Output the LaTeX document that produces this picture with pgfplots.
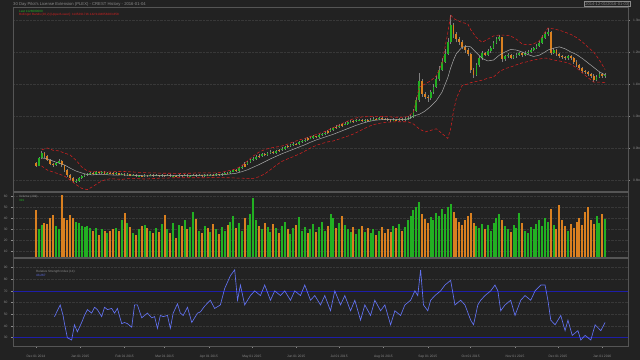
\documentclass[border=0pt]{standalone}
\usepackage{pgfplots}
\pgfplotsset{compat=1.18}
\usepackage{pgfplotstable}
\usepackage{fontspec}
\setmainfont{Liberation Sans}
\definecolor{bg}{HTML}{222222}
\definecolor{fg}{HTML}{8A8A8A}
\definecolor{framec}{HTML}{555555}
\definecolor{gridc}{HTML}{383838}
\definecolor{upc}{HTML}{22B022}
\definecolor{dnc}{HTML}{D98020}
\definecolor{wickc}{HTML}{808080}
\definecolor{bbc}{HTML}{D42020}
\definecolor{midc}{HTML}{A8A8A8}
\definecolor{rsic}{HTML}{6272F2}
\definecolor{thrc}{HTML}{1E1EA8}

% day o h l c v  (price in millions ISK, volume in 10k)
\pgfplotstableread{
d o h l c v
2 845 872 843 868 30
4 868 890 865 884 34
14 846 856 843 852 33
16 852 866 849 858 30
28 796 803 792 798 37
30 798 810 795 806 36
32 806 815 803 812 33
34 812 819 809 816 32
36 816 823 813 820 33
38 820 826 817 822 31
42 818 827 816 824 31
46 821 828 819 825 30
50 820 826 818 823 27
56 818 824 816 821 31
60 817 822 815 819 38
64 815 821 813 818 36
68 814 819 812 816 27
72 812 817 810 814 30
76 811 818 809 815 34
80 813 819 811 816 29
84 813 818 811 815 31
88 812 818 810 815 35
92 813 819 811 816 30
96 812 817 810 814 36
100 811 818 809 815 34
104 813 819 811 816 38
108 812 817 810 814 32
110 814 820 812 817 46
114 813 818 811 815 29
118 812 819 810 816 33
122 814 820 812 817 28
126 815 821 813 818 30
130 816 823 814 820 32
132 820 826 818 822 29
136 821 829 819 826 37
138 826 834 824 830 42
142 828 840 826 836 36
144 836 846 833 842 29
148 850 860 847 856 34
150 856 867 853 862 44
152 862 871 859 866 58
154 866 877 863 872 38
158 876 885 873 880 30
162 878 889 876 885 32
164 885 893 882 888 28
168 884 894 882 890 31
172 894 902 891 898 33
174 898 906 895 902 37
178 906 914 903 910 26
180 910 918 907 914 31
184 912 922 909 918 41
186 918 926 915 922 29
188 922 930 919 926 32
192 930 936 927 932 30
194 932 940 929 936 35
198 934 944 931 940 32
200 940 948 937 944 37
202 944 952 941 948 29
206 952 961 949 956 44
208 956 967 953 962 40
212 966 975 963 970 36
216 974 980 971 976 34
218 976 984 973 980 30
220 980 986 977 982 28
224 984 990 981 986 26
226 986 992 983 988 30
230 985 992 982 988 28
234 986 993 983 989 27
236 989 996 986 992 30
240 990 998 987 994 29
250 986 993 983 989 33
254 987 994 984 990 35
258 988 996 985 992 32
260 992 999 989 995 38
262 995 1003 992 998 42
264 998 1022 995 1015 47
266 1015 1060 1012 1050 50
268 1050 1135 1045 1110 55
276 1055 1082 1050 1075 41
278 1075 1100 1070 1092 38
280 1092 1124 1088 1115 45
282 1115 1155 1110 1145 42
284 1145 1182 1140 1170 48
286 1170 1208 1165 1195 44
288 1195 1245 1190 1230 50
290 1230 1316 1225 1285 53
308 1128 1165 1124 1158 33
310 1158 1188 1152 1180 31
312 1180 1204 1175 1196 35
316 1192 1208 1188 1202 34
318 1202 1220 1198 1214 29
320 1214 1234 1210 1228 36
322 1228 1246 1224 1240 40
324 1240 1254 1235 1246 44
328 1178 1192 1172 1186 33
330 1186 1196 1181 1190 30
334 1182 1192 1178 1186 34
336 1186 1197 1182 1192 31
338 1192 1201 1188 1196 45
342 1190 1203 1186 1198 29
344 1198 1206 1194 1201 27
346 1201 1211 1197 1206 32
348 1206 1217 1202 1212 30
350 1212 1225 1208 1220 35
352 1220 1234 1215 1228 38
354 1228 1252 1224 1245 33
356 1245 1262 1240 1255 40
358 1255 1275 1250 1262 37
362 1198 1212 1194 1205 34
372 1180 1191 1176 1186 29
392 1112 1128 1108 1122 42
394 1122 1136 1118 1130 36
398 1124 1133 1120 1128 39
}\uptab

\pgfplotstableread{
d o h l c v
0 852 855 840 845 47
6 884 887 870 875 36
8 875 878 858 862 35
10 862 865 846 850 40
12 850 853 842 846 43
18 858 861 842 846 61
20 846 848 826 831 40
22 831 834 810 815 38
24 815 818 800 806 43
26 806 809 790 796 40
40 822 824 815 818 29
44 824 826 818 821 25
48 825 827 818 820 29
52 823 825 819 822 29
54 822 824 816 818 30
58 821 823 815 817 29
62 819 821 812 815 45
66 818 820 811 814 32
70 816 818 809 812 25
74 814 816 808 811 33
78 815 817 810 813 31
82 816 818 810 813 27
86 815 817 809 812 28
90 815 817 810 813 43
94 816 818 809 812 27
98 814 816 808 811 22
102 815 817 810 813 33
106 816 818 809 812 30
112 817 819 810 813 39
116 815 817 809 812 27
120 816 818 811 814 31
124 817 819 812 815 35
128 818 820 813 816 26
134 822 825 818 821 34
140 830 833 825 828 31
146 850 855 840 842 40
156 876 881 869 872 33
160 880 884 874 878 36
166 888 891 880 884 35
170 894 898 887 890 27
176 906 910 899 902 30
182 914 917 908 912 34
190 930 934 923 926 27
196 936 939 930 934 28
204 952 957 945 948 33
210 966 971 959 962 31
214 974 979 967 970 42
222 984 988 979 982 32
228 988 991 981 985 33
232 988 991 982 986 31
238 992 995 986 990 25
242 994 997 988 992 32
244 992 995 986 990 27
246 990 993 984 988 30
248 988 991 982 986 28
252 989 992 983 987 31
256 990 993 984 988 29
270 1110 1115 1060 1068 44
272 1068 1075 1052 1060 39
274 1060 1066 1045 1055 36
292 1285 1290 1245 1255 46
294 1255 1262 1230 1240 40
296 1240 1248 1222 1232 37
298 1232 1238 1208 1216 34
300 1216 1222 1198 1205 38
302 1205 1212 1186 1195 42
304 1195 1198 1135 1145 45
306 1145 1150 1118 1128 36
314 1196 1200 1186 1192 30
326 1246 1248 1170 1178 38
332 1190 1194 1177 1182 28
340 1196 1199 1185 1190 36
360 1262 1265 1192 1198 48
364 1205 1208 1188 1194 30
366 1194 1198 1182 1188 52
368 1188 1192 1179 1185 38
370 1185 1189 1174 1180 33
374 1186 1190 1176 1182 35
376 1182 1185 1164 1170 31
378 1170 1174 1154 1160 37
380 1160 1164 1144 1150 40
382 1150 1154 1134 1140 34
384 1140 1145 1130 1136 46
386 1136 1140 1124 1130 50
388 1130 1134 1120 1126 38
390 1126 1130 1106 1112 35
396 1130 1134 1119 1124 44
}\dntab

% Bollinger bands (20,2): upper, middle, lower
\pgfplotstableread{
d u m w
4 894 869 844
8 900 866 831
12 893 859 825
16 891 853 819
20 884 847 812
24 878 837 800
28 862 828 786
32 841 822 774
36 828 817 770
40 826 816 780
44 826 818 792
48 825 817 800
52 825 816 804
56 826 815 803
60 827 816 802
64 826 815 804
68 825 815 805
72 824 814 804
76 823 813 803
80 822 813 804
84 822 814 805
88 821 814 806
92 821 814 806
96 821 814 807
100 820 814 807
104 821 814 807
108 821 814 807
112 822 814 807
116 822 815 807
120 822 815 807
124 822 815 808
128 823 816 808
132 826 817 807
136 830 819 807
140 835 821 806
144 845 826 806
148 860 832 804
152 875 840 805
156 887 848 810
160 895 857 819
164 900 866 832
168 903 874 846
172 906 882 858
176 912 889 866
180 919 896 873
184 925 903 881
188 930 910 890
192 936 918 900
196 942 925 908
200 948 931 914
204 955 937 919
208 964 943 922
212 972 950 928
216 980 957 934
220 988 964 940
224 994 971 948
228 997 977 957
232 998 982 966
236 999 986 973
240 999 988 977
244 998 989 980
248 997 989 981
252 996 989 982
256 996 989 982
260 998 990 982
264 1012 1000 975
268 1090 1005 960
272 1100 1015 950
276 1110 1030 955
280 1125 1048 960
284 1165 1075 945
288 1260 1120 930
290 1316 1150 960
292 1305 1175 1015
294 1300 1195 1055
298 1292 1215 1095
302 1288 1218 1100
304 1270 1216 1104
308 1245 1198 1108
312 1230 1180 1112
316 1240 1172 1118
320 1250 1175 1122
324 1253 1190 1138
328 1253 1200 1148
332 1250 1208 1153
336 1240 1206 1160
340 1225 1200 1166
344 1222 1192 1170
348 1225 1186 1175
352 1235 1190 1178
356 1262 1200 1181
358 1275 1206 1180
362 1272 1212 1175
366 1268 1216 1172
370 1262 1210 1168
374 1255 1200 1162
378 1245 1192 1150
382 1232 1180 1135
386 1215 1166 1120
390 1200 1152 1106
394 1175 1138 1106
398 1145 1128 1104
}\bbtab

% RSI (14)
\pgfplotstableread{
d r
13 48
17 58
19 49
20 42
22 30
25 28
27 41
29 35
32 43
34 49
36 54
39 51
41 56
43 54
46 48
48 56
50 54
53 55
55 51
57 55
60 42
62 43
64 42
67 39
69 58
71 58
74 47
78 51
81 47
83 48
85 38
87 49
89 48
92 49
94 38
96 51
99 59
101 51
103 49
106 56
109 43
113 51
115 52
118 57
122 62
125 55
129 58
132 72
136 83
139 88
141 62
143 75
146 58
150 66
153 70
157 66
160 75
164 62
167 70
171 66
174 70
178 62
181 70
185 66
188 75
192 62
195 66
199 58
202 66
206 53
209 70
213 58
216 66
220 53
223 62
227 45
230 58
234 49
237 62
241 53
244 58
248 41
251 53
255 49
258 58
262 62
265 70
267 66
269 88
271 58
274 53
276 62
279 66
283 70
286 75
290 79
293 58
297 62
300 58
304 45
306 41
309 58
311 62
314 66
318 70
321 75
323 70
325 53
328 58
332 62
335 49
339 62
342 66
346 62
349 70
353 75
356 75
358 62
360 45
363 41
367 49
370 36
372 45
375 32
379 36
381 28
384 32
388 28
391 41
395 36
398 43
}\rsitab

\pgfplotsset{
  panel/.style={
    scale only axis, width=615bp,
    xmin=-16, xmax=414,
    axis line style={framec, line width=0.8bp},
    tick style={fg, line width=0.4bp},
    tick align=outside, major tick length=2bp,
    ticklabel style={text=fg, font=\fontsize{3.3}{4}\selectfont},
    /pgf/number format/assume math mode=true,
    ymajorgrids, grid style={gridc, line width=0.4bp, densely dotted},
    axis on top=false, clip=true,
  }
}

\begin{document}
\begin{tikzpicture}
\fill[bg] (0,0) rectangle (640bp,360bp);

% ---------- price panel ----------
\begin{axis}[panel, at={(13bp,169bp)}, anchor=south west, height=184bp,
  ymin=765.6, ymax=1340.6,
  xtick=\empty,
  ytick={800,900,1000,1100,1200,1300},
  yticklabels={0.8bn,0.9bn,1.0bn,1.1bn,1.2bn,1.3bn},
  ytick pos=right, yticklabel pos=right,
  yticklabel style={xshift=-0.5bp}]
\addplot[wickc, line width=0.45bp, mark=none, quiver={u=0, v=\thisrow{h}-\thisrow{l}}] table[x=d, y=l] {\uptab};
\addplot[wickc, line width=0.45bp, mark=none, quiver={u=0, v=\thisrow{h}-\thisrow{l}}] table[x=d, y=l] {\dntab};
\addplot[upc, line width=1.8bp, mark=none, quiver={u=0, v=\thisrow{c}-\thisrow{o}}] table[x=d, y=o] {\uptab};
\addplot[dnc, line width=1.8bp, mark=none, quiver={u=0, v=\thisrow{c}-\thisrow{o}}] table[x=d, y=o] {\dntab};
\addplot[bbc, line width=0.55bp, densely dashed, mark=none] table[x=d, y=u] {\bbtab};
\addplot[bbc, line width=0.55bp, densely dashed, mark=none] table[x=d, y=w] {\bbtab};
\addplot[midc, line width=0.5bp, mark=none] table[x=d, y=m] {\bbtab};
\end{axis}

% ---------- volume panel ----------
\begin{axis}[panel, at={(13bp,103bp)}, anchor=south west, height=65bp,
  ymin=5.2, ymax=63.6,
  xtick=\empty,
  ytick={10,20,30,40,50,60},
  ytick pos=left]
\addplot[ycomb, upc, line width=2bp, mark=none] table[x=d, y=v] {\uptab};
\addplot[ycomb, dnc, line width=2bp, mark=none] table[x=d, y=v] {\dntab};
\end{axis}

% ---------- RSI panel ----------
\begin{axis}[panel, at={(13bp,14bp)}, anchor=south west, height=88bp,
  ymin=22.9, ymax=98.1,
  ytick={30,40,50,60,70,80,90},
  ytick pos=left,
  xtick={0,31,62,90,121,151,182,212,243,274,304,335,365,396},
  xticklabels={Dec 01 2014,Jan 01 2015,Feb 01 2015,Mar 01 2015,Apr 01 2015,May 01 2015,Jun 01 2015,Jul 01 2015,Aug 01 2015,Sep 01 2015,Oct 01 2015,Nov 01 2015,Dec 01 2015,Jan 01 2016},
  xtick pos=bottom,
  xticklabel style={yshift=-3.5bp}]
\addplot[thrc, line width=0.6bp, mark=none] coordinates {(-16,70) (414,70)};
\addplot[thrc, line width=0.6bp, mark=none] coordinates {(-16,30) (414,30)};
\addplot[rsic, line width=0.65bp, mark=none] table[x=d, y=r] {\rsitab};
\end{axis}

% ---------- texts ----------
\node[anchor=west, inner sep=0, text=fg, font=\fontsize{4.2}{5}\selectfont] at (13bp,356bp) {30 Day Pilot's License Extension (PLEX) - CREST History - 2016-01-04};
\node[anchor=east, draw=fg, line width=0.3bp, inner sep=0.5bp, text=fg, font=\fontsize{4.1}{5}\selectfont] at (630bp,356bp) {[2014-12-01/2016-01-03]};
\node[anchor=west, inner sep=0, text=upc, font=\fontsize{3.1}{4}\selectfont] at (19bp,349bp) {Last 1128000000};
\node[anchor=west, inner sep=0, text=bbc, font=\fontsize{3.1}{4}\selectfont] at (19bp,345bp) {Bollinger Bands (20,2) [Upper/Lower]: 1145291716.142/1104058283.858};
\node[anchor=west, inner sep=0, text=fg, font=\fontsize{3.1}{4}\selectfont] at (19bp,163.5bp) {Volume (10k):};
\node[anchor=west, inner sep=0, text=upc, font=\fontsize{3.1}{4}\selectfont] at (19bp,159.5bp) {391};
\node[anchor=west, inner sep=0, text=fg, font=\fontsize{3.1}{4}\selectfont] at (36bp,88.5bp) {Relative Strength Index (14):};
\node[anchor=west, inner sep=0, text=rsic, font=\fontsize{3.1}{4}\selectfont] at (36bp,84.5bp) {43.267};

\pgfresetboundingbox
\path[use as bounding box] (0,0) rectangle (640bp,360bp);
\end{tikzpicture}
\end{document}
